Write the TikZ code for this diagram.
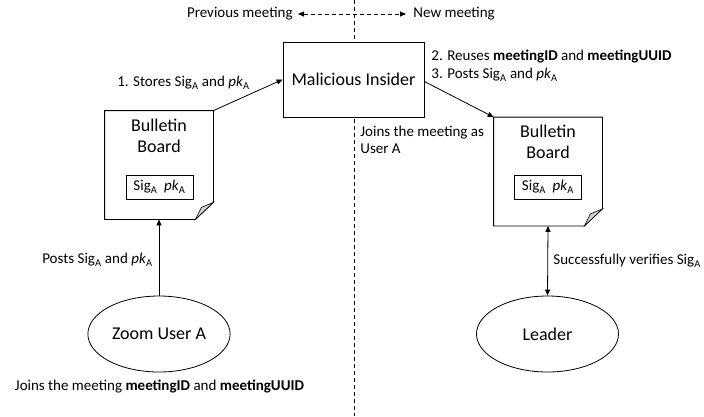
\documentclass[tikz,border=0pt]{standalone}
\usepackage{fontspec}
\setmainfont{Carlito}
\usetikzlibrary{arrows.meta,shapes.geometric,calc}
\newcommand{\subA}{\textsubscript{A}}
\begin{document}
\begin{tikzpicture}[x=1pt,y=-1pt,
  line width=0.8pt,
  tip/.style={-{Triangle[length=6pt,width=5pt]}},
  dtip/.style={{Triangle[length=6pt,width=5pt]}-{Triangle[length=6pt,width=5pt]}},
  big/.style={font=\fontsize{18}{21}\selectfont},
  small/.style={font=\fontsize{15}{18}\selectfont, inner sep=1pt},
  boardarea/.style={minimum width=108pt, minimum height=108pt, inner sep=0pt},
  sigbox/.style={draw, minimum width=67pt, minimum height=24pt, inner sep=0pt, font=\fontsize{15}{18}\selectfont},
  oval/.style={draw, ellipse, minimum width=142pt, minimum height=76pt, big},
  divider/.style={dash pattern=on 4pt off 3pt},
  foldfill/.style={fill=gray!35, line width=0.6pt}
]
\useasboundingbox (0,0) rectangle (704,416);

% vertical divider
\coordinate (vtop) at (354,0);
\coordinate (vbot) at (354,416);
\draw[divider] (vtop) -- (vbot);

% top labels
\node[small, anchor=east] (prev) at (294,14) {Previous meeting};
\node[small, anchor=west] (new) at (412,14) {New meeting};
\draw[divider, dtip] ([xshift=4pt]prev.east) -- ([xshift=-6pt]new.west);

% malicious insider
\node[draw, fill=white, big, minimum width=141pt, minimum height=75pt] (mal) at (353.5,79.5) {Malicious Insider};

% left bulletin board
\node[boardarea] (bbL) at (159,165) {};
\draw ($(bbL.south east)+(0,-17)$) -- (bbL.north east) -- (bbL.north west) -- (bbL.south west) -- ($(bbL.south east)+(-18,0)$) -- cycle;
\draw[foldfill] ($(bbL.south east)+(0,-17)$) -- ($(bbL.south east)+(-18,0)$) -- ($(bbL.south east)+(-12,-12)$) -- cycle;
\node[big, align=center] (ttlL) at (159,135.5) {Bulletin\\Board};
\node[sigbox] (sigL) at (159.5,187) {Sig\subA\ \ \textit{pk}\subA};

% right bulletin board
\node[boardarea] (bbR) at (548,171.5) {};
\draw ($(bbR.south east)+(0,-17)$) -- (bbR.north east) -- (bbR.north west) -- (bbR.south west) -- ($(bbR.south east)+(-18,0)$) -- cycle;
\draw[foldfill] ($(bbR.south east)+(0,-17)$) -- ($(bbR.south east)+(-18,0)$) -- ($(bbR.south east)+(-12,-12)$) -- cycle;
\node[big, align=center] (ttlR) at (548,142) {Bulletin\\Board};
\node[sigbox] (sigR) at (548,187) {Sig\subA\ \ \textit{pk}\subA};

% ellipses
\node[oval] (userA) at (159,334) {Zoom User A};
\node[oval] (leader) at (547.5,334) {Leader};

% connectors
\draw[tip] (bbL.north east) -- (mal.west);
\draw[tip] ($(mal.east)+(0,2)$) -- (bbR.north west);
\draw[tip] (userA.north) -- (bbL.south);
\draw[dtip] (bbR.south) -- (leader.north);

% labels
\node[small, anchor=east] (lbl1) at (251,83) {1. Stores Sig\subA{} and \textit{pk}\subA};
\node[small, anchor=west] (lbl2) at (430,56) {2. Reuses \textbf{meetingID} and \textbf{meetingUUID}};
\node[small, anchor=west] (lbl3) at (430,75) {3. Posts Sig\subA{} and \textit{pk}\subA};
\node[small, anchor=west, align=left, font=\fontsize{15}{17}\selectfont] (lbljoin) at (359,139.5) {Joins the meeting as\\User A};
\node[small, anchor=east] (lblpost) at (154,260) {Posts Sig\subA{} and \textit{pk}\subA};
\node[small] (lblbottom) at (159.5,387) {Joins the meeting \textbf{meetingID} and \textbf{meetingUUID}};
\node[small, anchor=west] (lblver) at (552,261) {Successfully verifies Sig\subA};
\end{tikzpicture}
\end{document}
